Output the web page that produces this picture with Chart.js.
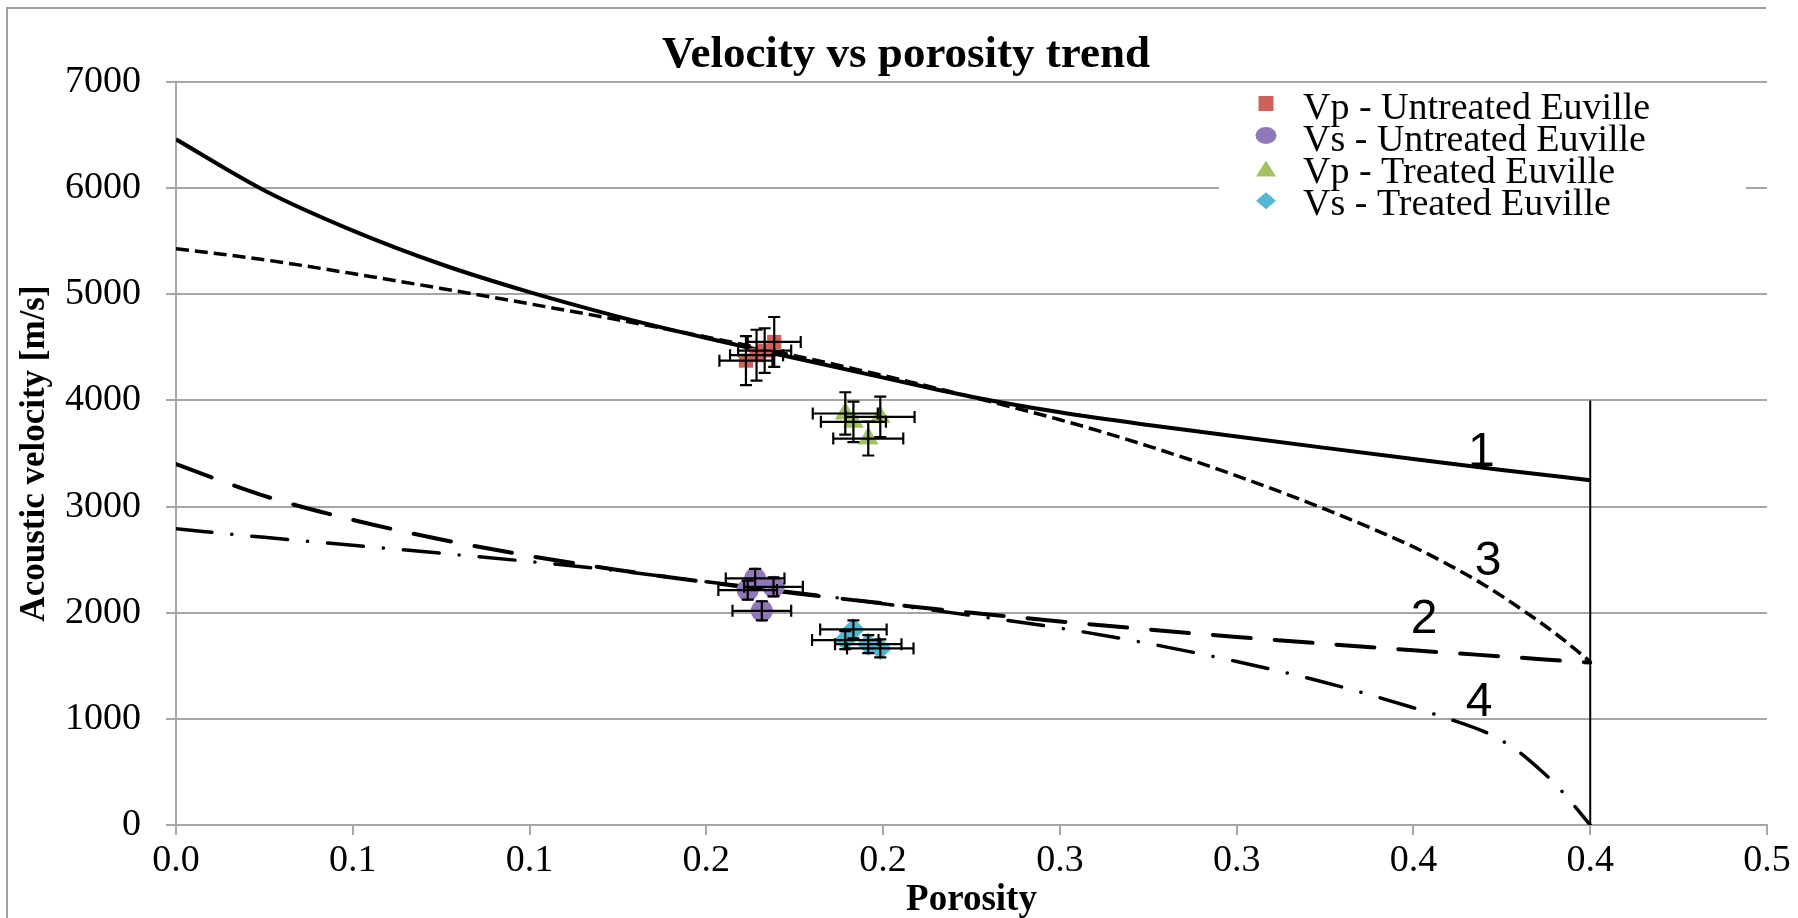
<!DOCTYPE html>
<html>
<head>
<meta charset="utf-8">
<script src="https://cdn.jsdelivr.net/npm/chart.js@4.4.1/dist/chart.umd.min.js"></script>
<style>
  html, body { margin: 0; padding: 0; background: #fff; }
  canvas { display: block; }
</style>
</head>
<body>
<canvas id="velocityChart" width="1798" height="918"></canvas>
<script>
// tick labels as printed on the porosity axis (one decimal)
const xTickLabels = ["0.0", "0.1", "0.1", "0.2", "0.2", "0.3", "0.3", "0.4", "0.4", "0.5"];

// measured samples
const vpUntreatedPorosity = [0.1692, 0.1665, 0.1642, 0.1612];
const vpUntreatedVelocity = [4551, 4470, 4426, 4375];
const vpUntreatedPorosityErr = [0.0075, 0.0075, 0.0075, 0.0075];
const vpUntreatedVelocityErr = [235, 210, 240, 230];

const vsUntreatedPorosity = [0.1638, 0.1617, 0.1690, 0.1657];
const vsUntreatedVelocity = [2323, 2213, 2244, 2018];
const vsUntreatedPorosityErr = [0.0083, 0.0083, 0.0083, 0.0083];
const vsUntreatedVelocityErr = [90, 90, 90, 90];

const vpTreatedPorosity = [0.1893, 0.1916, 0.1992, 0.1958];
const vpTreatedVelocity = [3877, 3798, 3845, 3641];
const vpTreatedPorosityErr = [0.0092, 0.0092, 0.0097, 0.0099];
const vpTreatedVelocityErr = [200, 190, 190, 160];

const vsTreatedPorosity = [0.1916, 0.1893, 0.1958, 0.1992];
const vsTreatedVelocity = [1843, 1742, 1704, 1664];
const vsTreatedPorosityErr = [0.0094, 0.0094, 0.0094, 0.0094];
const vsTreatedVelocityErr = [85, 85, 85, 85];

// model curves 1-4
const modelPorosity = [0, 0.025, 0.05, 0.075, 0.1, 0.125, 0.15, 0.175, 0.2, 0.225, 0.25, 0.275, 0.3, 0.325, 0.35, 0.375, 0.4];
const curve1Velocity = [6460, 5978, 5600, 5283, 5020, 4790, 4588, 4400, 4215, 4035, 3888, 3768, 3660, 3553, 3448, 3345, 3249];
const curve2Velocity = [3400, 3100, 2875, 2690, 2535, 2403, 2288, 2183, 2088, 2000, 1918, 1842, 1772, 1707, 1646, 1588, 1530];

const curve3Porosity = [0, 0.025, 0.05, 0.075, 0.1, 0.125, 0.15, 0.175, 0.2, 0.225, 0.25, 0.275, 0.3, 0.325, 0.35, 0.36, 0.37, 0.38, 0.39, 0.4];
const curve3Velocity = [5430, 5325, 5195, 5055, 4910, 4760, 4598, 4422, 4235, 4033, 3818, 3570, 3290, 2975, 2620, 2450, 2262, 2045, 1808, 1540];

const curve4Porosity = [0, 0.025, 0.05, 0.075, 0.1, 0.125, 0.15, 0.175, 0.2, 0.225, 0.25, 0.275, 0.3, 0.325, 0.35, 0.36, 0.37, 0.375, 0.38, 0.385, 0.39, 0.395, 0.4];
const curve4Velocity = [2790, 2710, 2635, 2560, 2482, 2394, 2292, 2190, 2085, 1975, 1855, 1710, 1540, 1343, 1105, 1000, 880, 795, 685, 545, 390, 200, 0];

// vertical limit at porosity 0.4
const cutoffPorosity = [0.4, 0.4];
const cutoffVelocity = [0, 4000];

// curve number labels
const curveLabelText = ["1", "2", "3", "4"];
const curveLabelPorosity = [0.3692, 0.3530, 0.3711, 0.3686];
const curveLabelVelocity = [3510, 1930, 2480, 1150];

const SERIF = '"Liberation Serif", "Times New Roman", serif';
const GRID = "#a6a6a6";

const toXY = (xs, ys) => xs.map((x, i) => ({ x: x, y: ys[i] }));

const scatterSeries = [
  { label: "Vp - Untreated Euville", x: vpUntreatedPorosity, y: vpUntreatedVelocity, ex: vpUntreatedPorosityErr, ey: vpUntreatedVelocityErr, color: "#cf615a", style: "rect", radius: 10 },
  { label: "Vs - Untreated Euville", x: vsUntreatedPorosity, y: vsUntreatedVelocity, ex: vsUntreatedPorosityErr, ey: vsUntreatedVelocityErr, color: "#9278b8", style: "circle", radius: 11 },
  { label: "Vp - Treated Euville", x: vpTreatedPorosity, y: vpTreatedVelocity, ex: vpTreatedPorosityErr, ey: vpTreatedVelocityErr, color: "#a3c264", style: "triangle", radius: 12 },
  { label: "Vs - Treated Euville", x: vsTreatedPorosity, y: vsTreatedVelocity, ex: vsTreatedPorosityErr, ey: vsTreatedVelocityErr, color: "#52b8d2", style: "rectRot", radius: 11.5 }
];

function curve(xs, ys, width, dash, cap) {
  return {
    data: toXY(xs, ys),
    showLine: true,
    pointRadius: 0,
    borderColor: "#000",
    borderWidth: width,
    borderDash: dash,
    borderCapStyle: cap,
    cubicInterpolationMode: "monotone",
    fill: false,
    order: 1
  };
}

const datasets = scatterSeries.map(s => ({
  label: s.label,
  data: toXY(s.x, s.y),
  pointStyle: s.style,
  pointRadius: s.radius,
  pointBackgroundColor: s.color,
  pointBorderWidth: 0,
  showLine: false,
  order: 0
}));
datasets.push(curve(modelPorosity, curve1Velocity, 4, [], "butt"));
datasets.push(curve(modelPorosity, curve2Velocity, 4, [38, 24], "round"));
datasets.push(curve(curve3Porosity, curve3Velocity, 3.5, [13, 6], "butt"));
datasets.push(curve(curve4Porosity, curve4Velocity, 3.5, [36, 20, 0.1, 20], "round"));
datasets.push({
  data: toXY(cutoffPorosity, cutoffVelocity),
  showLine: true, pointRadius: 0, borderColor: "#000", borderWidth: 2, order: 1
});

// white background, outer chart border and the title
const framePlugin = {
  id: "frame",
  beforeDraw(chart) {
    const c = chart.ctx;
    c.save();
    c.fillStyle = "#fff";
    c.fillRect(0, 0, chart.width, chart.height);
    c.strokeStyle = "#a0a0a0";
    c.lineWidth = 2;
    c.beginPath();
    c.moveTo(1766, 8);
    c.lineTo(7, 8);
    c.lineTo(7, chart.height);
    c.stroke();
    c.fillStyle = "#000";
    c.font = "bold 45px " + SERIF;
    c.textAlign = "center";
    c.textBaseline = "alphabetic";
    c.fillText("Velocity vs porosity trend", 906, 67);
    c.restore();
  }
};

const errorBarPlugin = {
  id: "errorBars",
  afterDatasetsDraw(chart) {
    const c = chart.ctx, xs = chart.scales.x, ys = chart.scales.y;
    const cap = 6;
    c.save();
    c.strokeStyle = "#000";
    c.lineWidth = 2.2;
    scatterSeries.forEach(s => {
      s.x.forEach((xv, i) => {
        const px = xs.getPixelForValue(xv), py = ys.getPixelForValue(s.y[i]);
        const x0 = xs.getPixelForValue(xv - s.ex[i]), x1 = xs.getPixelForValue(xv + s.ex[i]);
        const y0 = ys.getPixelForValue(s.y[i] - s.ey[i]), y1 = ys.getPixelForValue(s.y[i] + s.ey[i]);
        c.beginPath();
        c.moveTo(x0, py); c.lineTo(x1, py);
        c.moveTo(x0, py - cap); c.lineTo(x0, py + cap);
        c.moveTo(x1, py - cap); c.lineTo(x1, py + cap);
        c.moveTo(px, y0); c.lineTo(px, y1);
        c.moveTo(px - cap, y0); c.lineTo(px + cap, y0);
        c.moveTo(px - cap, y1); c.lineTo(px + cap, y1);
        c.stroke();
      });
    });
    c.restore();
  }
};

const curveLabelPlugin = {
  id: "curveLabels",
  afterDatasetsDraw(chart) {
    const c = chart.ctx, xs = chart.scales.x, ys = chart.scales.y;
    c.save();
    c.fillStyle = "#000";
    c.font = '48px "Liberation Sans", Arial, sans-serif';
    c.textAlign = "center";
    c.textBaseline = "middle";
    curveLabelText.forEach((t, i) => {
      c.fillText(t, xs.getPixelForValue(curveLabelPorosity[i]), ys.getPixelForValue(curveLabelVelocity[i]));
    });
    c.restore();
  }
};

// legend in the top right corner, no frame
const legendPlugin = {
  id: "sideLegend",
  afterDraw(chart) {
    const c = chart.ctx;
    const markerX = 1266, textX = 1303;
    const baselines = [118.5, 150.7, 182.9, 215.1];
    const markerY = [103.5, 135.5, 170.5, 200.8];
    c.save();
    c.fillStyle = "#fff";
    c.fillRect(1219, 90, 527, 136);
    scatterSeries.forEach((s, i) => {
      const y = markerY[i];
      c.fillStyle = s.color;
      c.beginPath();
      if (s.style === "rect") {
        c.rect(markerX - 7.5, y - 7.5, 15, 15);
      } else if (s.style === "circle") {
        c.ellipse(markerX, y, 10.5, 8.5, 0, 0, Math.PI * 2);
      } else if (s.style === "triangle") {
        c.moveTo(markerX, y - 10);
        c.lineTo(markerX + 10, y + 6);
        c.lineTo(markerX - 10, y + 6);
        c.closePath();
      } else {
        c.moveTo(markerX, y - 8.5);
        c.lineTo(markerX + 10, y);
        c.lineTo(markerX, y + 8.5);
        c.lineTo(markerX - 10, y);
        c.closePath();
      }
      c.fill();
      c.fillStyle = "#000";
      c.font = "38px " + SERIF;
      c.textAlign = "left";
      c.textBaseline = "alphabetic";
      c.fillText(s.label, textX, baselines[i]);
    });
    c.restore();
  }
};

const ctx = document.getElementById("velocityChart").getContext("2d");
const chart = new Chart(ctx, {
  type: "scatter",
  data: { datasets: datasets },
  options: {
    responsive: false,
    animation: false,
    layout: { padding: { left: 0, right: 31, top: 82, bottom: 0 } },
    plugins: {
      legend: { display: false },
      tooltip: { enabled: false },
      title: { display: false }
    },
    scales: {
      x: {
        type: "linear",
        min: 0,
        max: 0.45,
        afterFit: s => { s.height = 93; },
        ticks: {
          stepSize: 0.05,
          autoSkip: false,
          maxRotation: 0,
          padding: 3,
          color: "#000",
          font: { family: SERIF, size: 38 },
          callback: (v, i) => xTickLabels[i]
        },
        grid: { drawOnChartArea: false, tickLength: 10, color: GRID, lineWidth: 2 },
        border: { color: GRID, width: 2 },
        title: {
          display: true,
          text: "Porosity",
          color: "#000",
          font: { family: SERIF, size: 37, weight: "bold" },
          padding: { top: 0, bottom: -5 }
        }
      },
      y: {
        min: 0,
        max: 7000,
        afterFit: s => { s.width = 176; },
        ticks: {
          stepSize: 1000,
          padding: 25,
          color: "#000",
          font: { family: SERIF, size: 38 },
          callback: v => String(v)
        },
        grid: { color: GRID, lineWidth: 2, tickLength: 10 },
        border: { color: GRID, width: 2 },
        title: {
          display: true,
          text: "Acoustic velocity [m/s]",
          color: "#000",
          font: { family: SERIF, size: 35, weight: "bold" },
          padding: { top: 14, bottom: 0 }
        }
      }
    }
  },
  plugins: [framePlugin, errorBarPlugin, curveLabelPlugin, legendPlugin]
});
</script>
</body>
</html>
